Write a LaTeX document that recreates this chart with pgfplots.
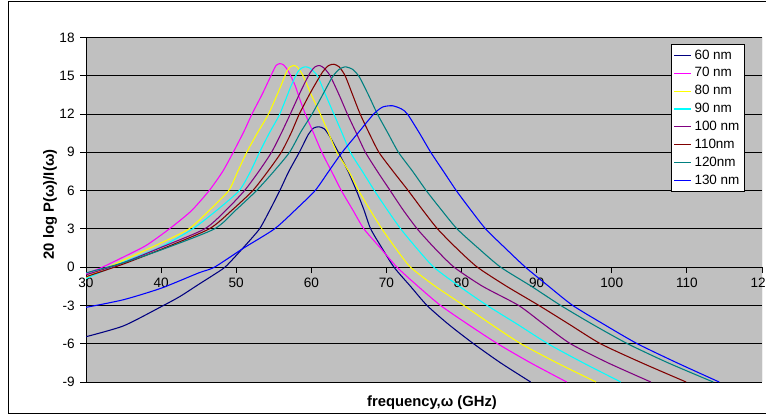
\documentclass[border=0pt]{standalone}
\usepackage{fontspec}
\setmainfont{Liberation Sans}
\usepackage{pgfplots}
\pgfplotsset{compat=1.18}

\definecolor{plotgray}{RGB}{192,192,192}
\definecolor{c60}{RGB}{0,0,128}
\definecolor{c70}{RGB}{255,0,255}
\definecolor{c80}{RGB}{255,255,0}
\definecolor{c90}{RGB}{0,255,255}
\definecolor{c100}{RGB}{128,0,128}
\definecolor{c110}{RGB}{128,0,0}
\definecolor{c120}{RGB}{0,128,128}
\definecolor{c130}{RGB}{0,0,255}

\begin{document}
\begin{tikzpicture}[x=1pt,y=1pt]
\useasboundingbox (-64.5,-24.75) rectangle (510,286.5);
\draw[black, line width=0.6pt] (-58.5,-23.4) rectangle (530,285.2);
\begin{axis}[
    at={(0,0)}, anchor=south west,
    scale only axis,
    width=507pt, height=258.4pt,
    xmin=30, xmax=120, ymin=-9, ymax=18,
    xtick={30,40,...,120},
    ytick={-9,-6,...,18},
    axis x line*=middle,
    axis y line*=left,
    hide obscured x ticks=false,
    hide obscured y ticks=false,
    axis background/.style={fill=plotgray},
    ymajorgrids,
    major grid style={black, line width=0.6pt},
    axis line style={black, line width=0.6pt},
    tick style={black, line width=0.6pt},
    tick align=outside,
    major tick length=4.5pt,
    /pgf/number format/assume math mode=true,
    tick label style={font=\fontsize{10.2}{12}\selectfont},
    xticklabel style={anchor=north, yshift=0pt},
    yticklabel style={xshift=-0.5pt},
    xlabel={frequency,ω (GHz)},
    ylabel={20 log P(ω)/I(ω)},
    label style={font=\fontsize{11.1}{13}\selectfont\bfseries},
    xlabel style={at={(axis description cs:0.5,0)}, anchor=center, xshift=6pt, yshift=-15.75pt},
    ylabel style={at={(axis description cs:-0.0533,0.5155)}, anchor=center},
    legend style={at={(axis description cs:0.975,0.981)}, anchor=north east,
        draw=black, fill=white, line width=0.5pt,
        font=\fontsize{10.1}{12}\selectfont, row sep=0.85pt,
        inner xsep=2pt, inner ysep=2pt},
    legend cell align=left,
    legend image code/.code={\draw[#1, line width=0.8pt] (0pt,0pt) -- (12.75pt,0pt);},
    every axis plot/.append style={line width=0.8pt, smooth, tension=0.4},
]
% 60 nm
\addplot[c60] coordinates {
 (30,-5.45) (35,-4.6) (40,-3.1) (42.5,-2.3) (45,-1.35) (47,-0.6) (48.6,0.05)
 (50.9,1.5) (53.1,3) (54.5,4.5) (55.8,6) (57,7.5) (58.4,9) (59.6,10.4)
 (60.3,10.9) (61,11) (61.7,10.85) (62.4,10.3) (63.6,9) (64.9,7.5) (66,6)
 (67,4.5) (67.9,3) (69.4,1.5) (71,0) (73.2,-1.5) (75.4,-3) (78.3,-4.5)
 (81.6,-6) (85.2,-7.5) (89.2,-9)
};
% 70 nm
\addplot[c70] coordinates {
 (30,-0.5) (32,-0.05) (35,0.8) (38,1.7) (41.1,3) (44,4.4) (46.4,6) (48.2,7.5)
 (49.6,9) (51,10.6) (52.1,12) (53.5,13.6) (54.7,15.1) (55.3,15.8) (55.8,15.95)
 (56.3,15.85) (56.9,15.4) (57.8,14.3) (58.5,13.1) (59.2,12) (60.3,10.5)
 (61.4,9) (62.7,7.5) (64.0,6) (65.5,4.5) (67,3) (69.2,1.5) (71.4,0) (74.2,-1.5)
 (77.2,-3) (80.9,-4.5) (84.8,-6) (89.2,-7.5) (94,-9)
};
% 80 nm
\addplot[c80] coordinates {
 (30,-0.8) (35,0.55) (40,1.9) (43.7,3) (46.5,4.5) (49,6) (50.2,7.5) (51.4,9)
 (52.8,10.5) (54.3,12) (55.8,14) (56.7,15.3) (57.2,15.7) (57.6,15.8) (58.1,15.7)
 (58.9,15) (60,13.5) (61.2,12) (62.3,10.5) (63.4,9) (65,7.5) (66.3,6)
 (67.8,4.5) (69.4,3) (71.2,1.5) (73.2,0) (76.5,-1.5) (80.3,-3) (84,-4.5)
 (87.9,-6) (92.7,-7.5) (97.9,-9)
};
% 90 nm
\addplot[c90] coordinates {
 (30,-0.9) (35,0.4) (40,1.6) (44.2,3) (47.5,4.5) (50.4,6) (51.9,7.5) (53.1,9)
 (54.4,10.5) (55.8,12) (57.3,14.2) (58.2,15.3) (58.7,15.6) (59.2,15.7)
 (59.8,15.6) (60.8,15) (61.9,13.5) (63,12) (64.1,10.5) (65.2,9) (66.8,7.5)
 (68.4,6) (70.1,4.5) (71.9,3) (74,1.5) (76.3,0) (79.7,-1.5) (83.4,-3)
 (87.5,-4.5) (91.5,-6) (96.2,-7.5) (101.2,-9)
};
% 100 nm
\addplot[c100] coordinates {
 (30,-0.6) (35,0.35) (40,1.55) (45.8,3) (48.7,4.5) (51.1,6) (53,7.5) (54.7,9)
 (56,10.5) (57.2,12) (58.6,13.8) (59.8,15.2) (60.5,15.7) (61.1,15.8)
 (61.7,15.6) (62.5,15) (63.7,13.5) (64.8,12) (66,10.5) (67.2,9) (68.8,7.5)
 (70.5,6) (72.2,4.5) (74.1,3) (76.4,1.5) (79,0) (82.8,-1.5) (87.6,-3)
 (91,-4.5) (94.5,-6) (99.5,-7.5) (105.2,-9)
};
% 110 nm
\addplot[c110] coordinates {
 (30,-0.75) (35,0.25) (40,1.4) (46.4,3) (49.5,4.5) (52.2,6) (54.2,7.5) (56,9)
 (57.3,10.5) (58.4,12) (60,13.8) (61.5,15.3) (62.3,15.8) (63,15.9) (63.7,15.7)
 (64.5,15) (65.5,13.5) (66.5,12) (67.7,10.5) (69,9) (70.9,7.5) (72.9,6)
 (74.8,4.5) (76.8,3) (79.3,1.5) (82.1,0) (86,-1.5) (90.3,-3) (94.4,-4.5)
 (98.5,-6) (104,-7.5) (109.9,-9)
};
% 120 nm
\addplot[c120] coordinates {
 (30,-0.45) (35,0.35) (40,1.35) (47.1,3) (50,4.5) (52.7,6) (55,7.5) (57.1,9)
 (58.6,10.6) (60.1,12) (61.5,13.5) (62.8,14.9) (63.7,15.5) (64.5,15.7)
 (65.5,15.5) (66.4,14.9) (67.6,13.5) (68.8,12) (70.2,10.5) (71.6,9) (73.5,7.5)
 (75.3,6) (77.3,4.5) (79.4,3) (82.2,1.5) (85.2,0) (89.3,-1.5) (93.2,-3)
 (97.5,-4.5) (102.1,-6) (107.5,-7.5) (113.5,-9)
};
% 130 nm
\addplot[c130] coordinates {
 (30,-3.15) (35,-2.55) (40,-1.65) (45,-0.45) (47.1,0) (51,1.5) (55.1,3)
 (57.9,4.5) (60.5,6) (62.3,7.5) (64.1,9) (66.2,10.5) (68.3,12) (69.5,12.55)
 (70.8,12.65) (72,12.4) (72.8,12) (74.4,10.5) (75.9,9) (77.6,7.5) (79.3,6)
 (81.2,4.5) (83.2,3) (85.8,1.5) (88.5,0) (91.6,-1.5) (94.8,-3) (99,-4.5)
 (103.4,-6) (108.7,-7.5) (114.3,-9)
};
\legend{60 nm, 70 nm, 80 nm, 90 nm, 100 nm, 110nm, 120nm, 130 nm}
\draw[gray, line width=0.6pt] (rel axis cs:1,0) -- (rel axis cs:1,1);
\end{axis}
\end{tikzpicture}
\end{document}
